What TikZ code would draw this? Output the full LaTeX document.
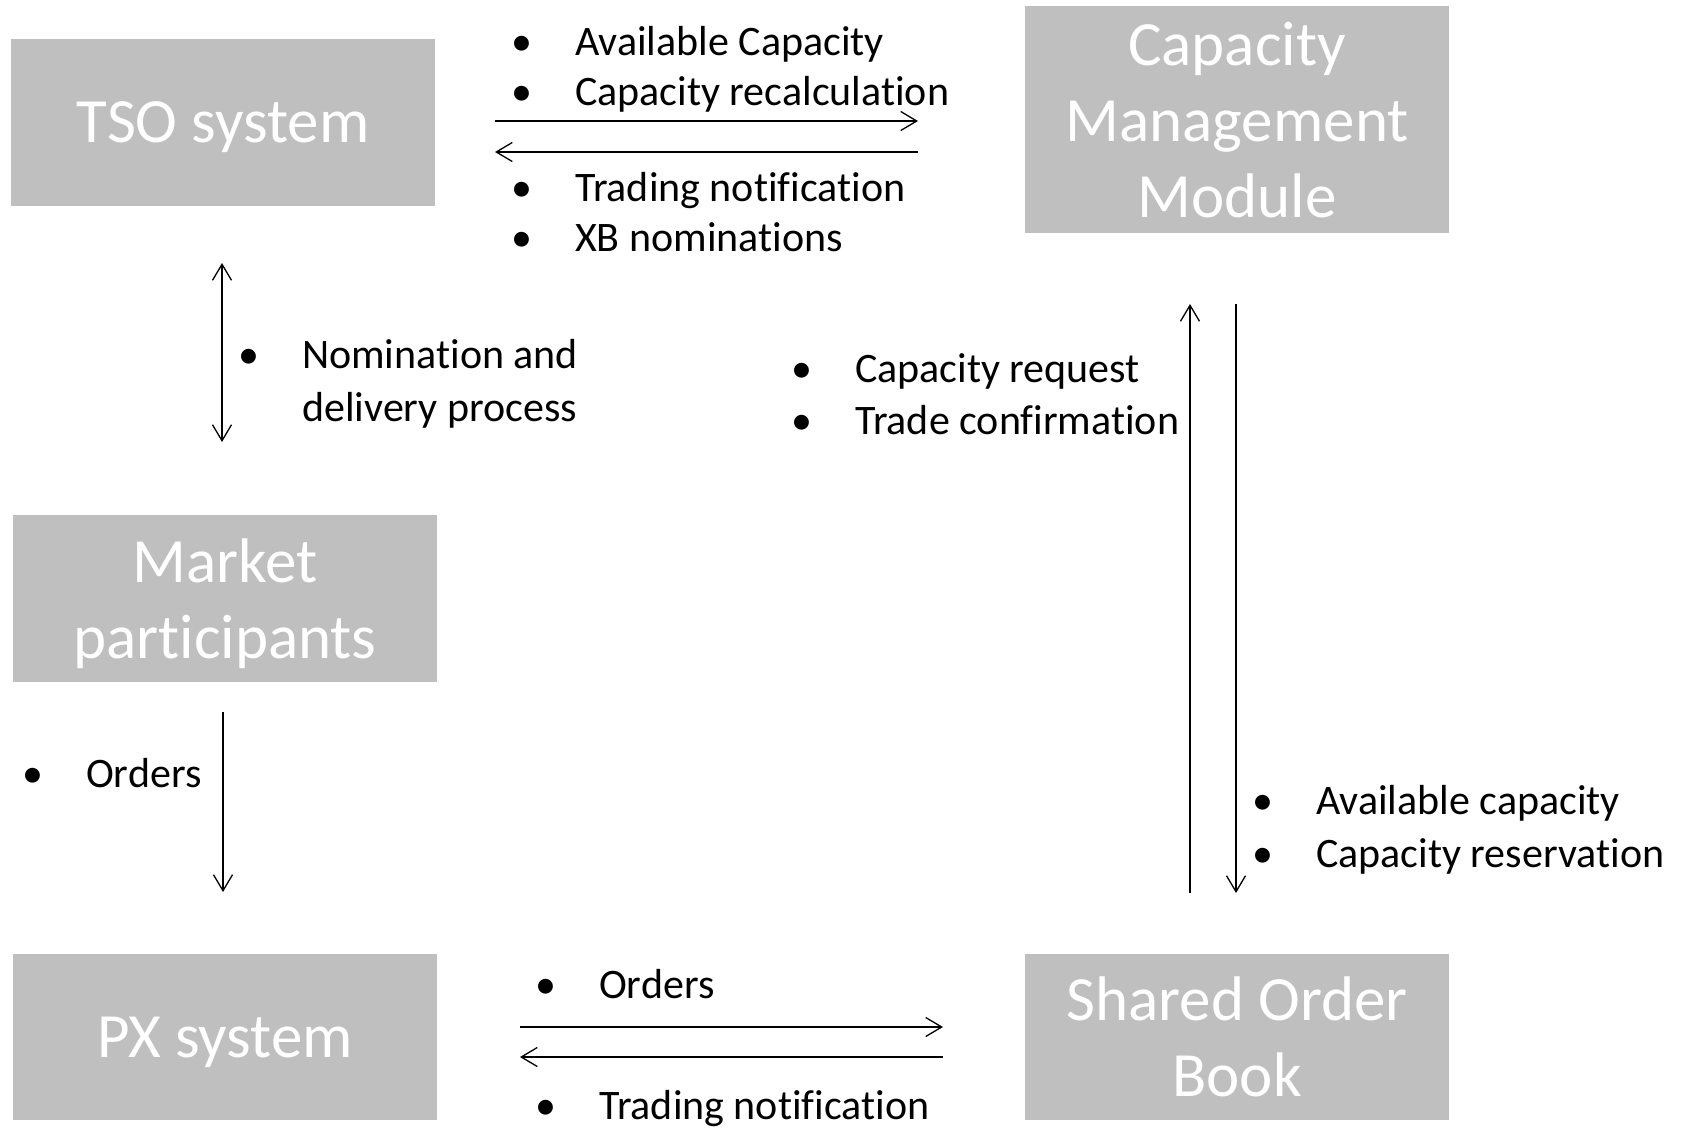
\documentclass[tikz,border=0pt]{standalone}
\usepackage{fontspec}
\setmainfont[Ligatures=NoCommon]{Carlito}
\usetikzlibrary{arrows.meta}

\definecolor{boxgray}{HTML}{BFBFBF}

% bullet item: bullet centred on the anchor, text 53pt to its right
\newcommand{\bitem}[1]{\makebox[0pt]{\textbullet}\hspace*{53pt}#1}

\begin{document}
\begin{tikzpicture}[x=1pt,y=-1pt,
  sysbox/.style={rectangle, fill=boxgray, draw=none, text=white,
    minimum width=424pt, align=center, inner sep=0pt, text depth=0pt,
    font=\fontsize{63}{76}\selectfont},
  lbl/.style={anchor=base west, inner sep=0pt,
    font=\fontsize{42}{51}\selectfont},
  flow/.style={line width=1.3pt, -{Straight Barb[length=16pt,width=19pt,line width=1.3pt]}},
  flowboth/.style={line width=1.3pt, {Straight Barb[length=16pt,width=19pt,line width=1.3pt]}-{Straight Barb[length=16pt,width=19pt,line width=1.3pt]}}]

\useasboundingbox (0,0) rectangle (1684,1128);

% system blocks
\node[sysbox, minimum height=166.5pt] (tso) at (223,122.5) {TSO system};
\node[sysbox, minimum height=226.7pt] (cmm) at (1237,119.5) {Capacity\\Management\\Module};
\node[sysbox, minimum height=167pt] (mp) at (225,598.5) {Market\\participants};
\node[sysbox, minimum height=166pt] (px) at (225,1037) {PX system};
\node[sysbox, minimum height=166pt] (sob) at (1237,1037) {Shared Order\\Book};

% connector end points
\coordinate (tcL1) at (495,121);  \coordinate (tcR1) at (918,121);
\coordinate (tcL2) at (495,152);  \coordinate (tcR2) at (918,152);
\coordinate (tmT) at (222,263);   \coordinate (tmB) at (222,442);
\coordinate (mpT) at (223,712);   \coordinate (mpB) at (223,892);
\coordinate (upB) at (1190,893);  \coordinate (upT) at (1190,304);
\coordinate (dnT) at (1236,304);  \coordinate (dnB) at (1236,893);
\coordinate (psL1) at (520,1027); \coordinate (psR1) at (943,1027);
\coordinate (psL2) at (520,1057); \coordinate (psR2) at (943,1057);

% connectors
\draw[flow] (tcL1) -- (tcR1);
\draw[flow] (tcR2) -- (tcL2);
\draw[flowboth] (tmT) -- (tmB);
\draw[flow] (mpT) -- (mpB);
\draw[flow] (upB) -- (upT);
\draw[flow] (dnT) -- (dnB);
\draw[flow] (psL1) -- (psR1);
\draw[flow] (psR2) -- (psL2);

% labels: TSO <-> capacity management
\node[lbl] (l1) at (522,55)  {\bitem{Available Capacity}};
\node[lbl] (l2) at (522,105) {\bitem{Capacity recalculation}};
\node[lbl] (l3) at (522,201) {\bitem{Trading notification}};
\node[lbl] (l4) at (522,251) {\bitem{XB nominations}};

% labels: TSO <-> market participants
\node[lbl] (l5) at (249,368) {\bitem{Nomination and}};
\node[lbl] (l6) at (302,421) {delivery process};

% labels: market participants -> PX
\node[lbl] (l7) at (33,787) {\bitem{Orders}};

% labels: capacity management <-> shared order book
\node[lbl] (l8) at (802,382.5) {\bitem{Capacity request}};
\node[lbl] (l9) at (802,434)   {\bitem{Trade confirmation}};
\node[lbl] (l10) at (1263,814) {\bitem{Available capacity}};
\node[lbl] (l11) at (1263,867) {\bitem{Capacity reservation}};

% labels: PX <-> shared order book
\node[lbl] (l12) at (546,998)  {\bitem{Orders}};
\node[lbl] (l13) at (546,1119) {\bitem{Trading notification}};

\end{tikzpicture}
\end{document}
